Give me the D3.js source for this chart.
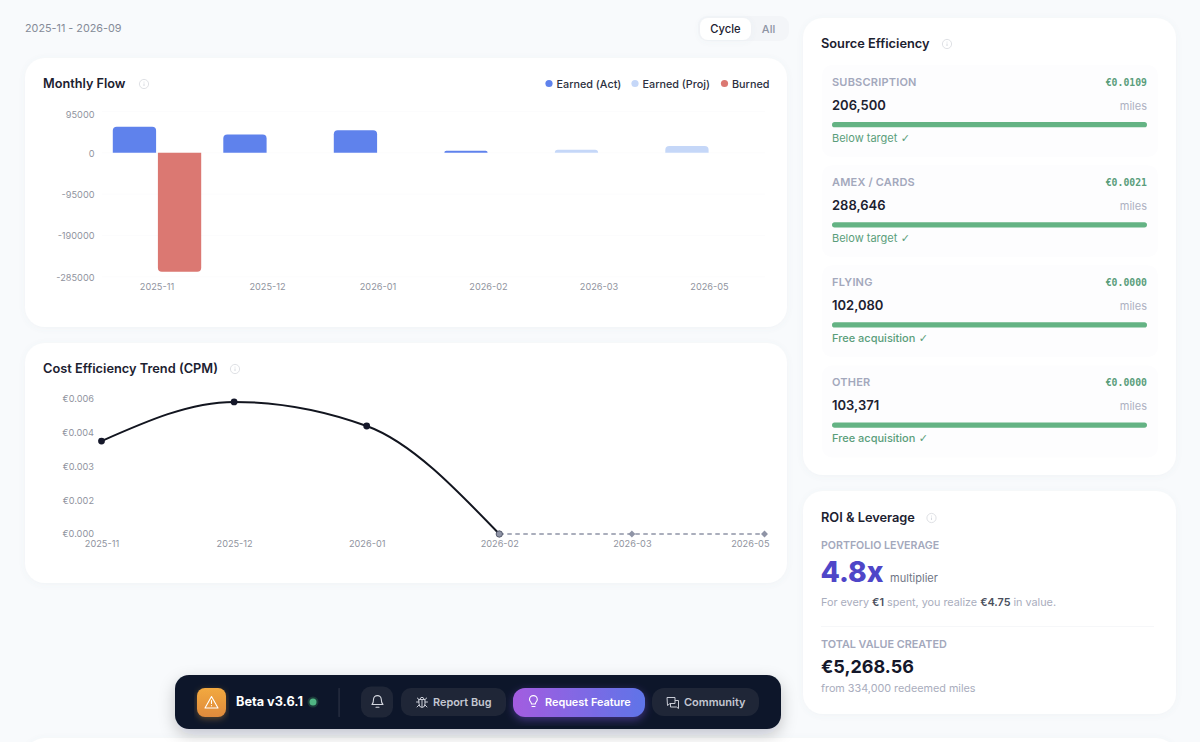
<!DOCTYPE html>
<html><head><meta charset="utf-8">
<script src="https://cdnjs.cloudflare.com/ajax/libs/d3/7.8.5/d3.min.js"></script>
<style>
html,body{margin:0;padding:0;background:#f8fafc;overflow:hidden}
svg{display:block}
text{font-family:Inter,"Noto Sans",sans-serif}
</style></head><body>
<script>
// ---- data ----
const months = ["2025-11","2025-12","2026-01","2026-02","2026-03","2026-05"];
const earnedActual = [59700,42000,51700,4600,0,0];
const earnedProjected = [0,0,0,0,7000,15400];
const burned = [273500,0,0,0,0,0];
const flowTicks = [95000,0,-95000,-190000,-285000];
const cpmActual = [0.00413,0.00587,0.0048,0];
const cpmProjected = [0,0,0];
const cpmTickValues = [0,0.0015,0.003,0.0045,0.006];
const cpmTickLabels = ["€0.000","€0.002","€0.003","€0.004","€0.006"];
const legendNames = ["Earned (Act)","Earned (Proj)","Burned"];
const sourceNames = ["SUBSCRIPTION","AMEX / CARDS","FLYING","OTHER"];
const sourceCpm = ["€0.0109","€0.0021","€0.0000","€0.0000"];
const sourceMiles = ["206,500","288,646","102,080","103,371"];
const sourceNotes = ["Below target","Below target","Free acquisition","Free acquisition"];
const sourceFill = [1,1,1,1];

const BLUE="#5f82ec",PROJ="#c5d7f8",RED="#db7872",INK="#1c2130",TICK="#8f939e",GREEN="#64b384";
const svg=d3.select("body").append("svg").attr("width",1200).attr("height",742);
const defs=svg.append("defs");
const sh=(id,dy,std,op,col)=>{const f=defs.append("filter").attr("id",id).attr("x","-10%").attr("y","-20%").attr("width","120%").attr("height","150%");
  f.append("feDropShadow").attr("dx",0).attr("dy",dy).attr("stdDeviation",std).attr("flood-color",col||"#64748b").attr("flood-opacity",op);};
sh("card",1,3,0.06); sh("bar",6,8,0.22,"#0f172a"); sh("glow",3,4,0.4,"#8b5cf6"); sh("glowO",2,3,0.35,"#f0a53b");
const grad=(id,a,b,v)=>{const g=defs.append("linearGradient").attr("id",id);if(v){g.attr("x2",0).attr("y2",1);}g.append("stop").attr("offset",0).attr("stop-color",a);g.append("stop").attr("offset",1).attr("stop-color",b);};
grad("purple","#a35ce0","#5f74e8"); grad("orange","#f2a93f","#df8a3c",true);

const rect=(p,x,y,w,h,r,fill)=>p.append("rect").attr("x",x).attr("y",y).attr("width",w).attr("height",h).attr("rx",r).attr("fill",fill);
const txt=(p,x,y,s,size,weight,fill,anchor)=>p.append("text").attr("x",x).attr("y",y).attr("dy","0.35em").attr("font-size",size).attr("font-weight",weight).attr("fill",fill).attr("text-anchor",anchor||"start").text(s);
const info=(x,y)=>{const g=svg.append("g");g.append("circle").attr("cx",x).attr("cy",y).attr("r",4.6).attr("fill","none").attr("stroke","#dfe1e5").attr("stroke-width",1);
  g.append("line").attr("x1",x).attr("x2",x).attr("y1",y-0.5).attr("y2",y+2).attr("stroke","#d3d6dc").attr("stroke-width",0.9);
  g.append("circle").attr("cx",x).attr("cy",y-2).attr("r",0.5).attr("fill","#d3d6dc");};

// ---- page furniture ----
txt(svg,25,28.5,"2025-11 - 2026-09",10.8,400,"#858b98");
rect(svg,698,16,91,25,9,"#f3f5f8");
rect(svg,700,18,51,22,8,"#ffffff").attr("filter","url(#card)");
txt(svg,725.5,29,"Cycle",11.2,500,INK,"middle");
txt(svg,768.5,29,"All",11,500,"#8d93a3","middle");

[[25,58,762,269],[25,343,762,240],[803,18,373,457],[803,491,373,223],[25,738,1151,60]].forEach(c=>
  rect(svg,c[0],c[1],c[2],c[3],20,"#ffffff").attr("filter","url(#card)"));

// ---- Monthly Flow ----
txt(svg,43,84,"Monthly Flow",12.7,600,INK);
info(144,84);
const legendX=[549,635,724.5],legendT=[556.5,642.5,732],legendC=[BLUE,PROJ,RED];
legendNames.forEach((n,i)=>{
  svg.append("circle").attr("cx",legendX[i]).attr("cy",83.5).attr("r",3.6).attr("fill",legendC[i]);
  txt(svg,legendT[i],84,n,10.8,500,"#2b3040");
});
const x0=d3.scaleBand().domain(months).range([101.75,764.75]).paddingInner(0.2).paddingOuter(0.1);
const x1=d3.scaleBand().domain(["earned","burned"]).range([0,x0.bandwidth()]).paddingInner(0.04);
const yF=d3.scaleLinear().domain([-285000,95000]).range([276.8,111.4]);
const flow=svg.append("g");
flow.selectAll("line.g").data(flowTicks).join("line").attr("x1",102).attr("x2",765)
  .attr("y1",d=>yF(d)).attr("y2",d=>yF(d)).attr("stroke","#fcfcfd").attr("stroke-width",1);
const yAxisF=flow.append("g").attr("transform","translate(94.5,0.5)")
  .call(d3.axisLeft(yF).tickValues(flowTicks).tickSize(0).tickPadding(0).tickFormat(String));
yAxisF.select(".domain").remove();
yAxisF.selectAll("text").attr("font-size",9.2).attr("fill",TICK).style("font-family","Inter")
  .filter(d=>d===95000).attr("dy","0.6em");
const xAxisF=flow.append("g").attr("transform","translate(0,283)")
  .call(d3.axisBottom(d3.scaleBand().domain(months).range([101.75,764.75])).tickSize(0).tickPadding(0));
xAxisF.select(".domain").remove();
xAxisF.selectAll("text").attr("font-size",9.2).attr("fill",TICK).style("font-family","Inter").attr("dy","0.71em");
const barPath=(x,w,a,b)=>{ // rounded at the end away from zero
  const up=b<a,h=Math.abs(b-a),r=Math.min(4,h);
  return up?`M${x},${a}V${b+r}Q${x},${b} ${x+r},${b}H${x+w-r}Q${x+w},${b} ${x+w},${b+r}V${a}Z`
           :`M${x},${a}V${b-r}Q${x},${b} ${x+r},${b}H${x+w-r}Q${x+w},${b} ${x+w},${b-r}V${a}Z`;
};
const drawBars=(vals,key,sign,fill)=>flow.append("g").selectAll("path").data(months.map((m,i)=>({m,v:vals[i]})).filter(d=>d.v>0)).join("path")
  .attr("fill",fill).attr("d",d=>barPath(x0(d.m)+x1(key),x1.bandwidth(),yF(0),yF(sign*d.v)));
drawBars(earnedActual,"earned",1,BLUE);
drawBars(earnedProjected,"earned",1,PROJ);
drawBars(burned,"burned",-1,RED);

// ---- Cost Efficiency Trend ----
txt(svg,43,369,"Cost Efficiency Trend (CPM)",12.8,600,INK);
info(235,369);
const xC=d3.scalePoint().domain(months).range([101.5,764.5]);
const yC=d3.scaleLinear().domain([0,0.006]).range([534,399]);
const cpm=svg.append("g");
const yAxisC=cpm.append("g").attr("transform","translate(94,0)")
  .call(d3.axisLeft(yC).tickValues(cpmTickValues).tickSize(0).tickPadding(0).tickFormat((d,i)=>cpmTickLabels[i]));
yAxisC.select(".domain").remove();
yAxisC.selectAll("text").attr("font-size",9.2).attr("fill",TICK).style("font-family","Inter");
const xAxisC=cpm.append("g").attr("transform","translate(0,540.5)").call(d3.axisBottom(xC).tickSize(0).tickPadding(0));
xAxisC.select(".domain").remove();
xAxisC.selectAll("text").attr("font-size",9.2).attr("fill",TICK).style("font-family","Inter").attr("dy","0.71em")
  .filter((d,i)=>i===months.length-1).attr("text-anchor","end").attr("x",4.5);
const line=d3.line().x(d=>xC(d.m)).y(d=>yC(d.v)).curve(d3.curveMonotoneX);
const act=cpmActual.map((v,i)=>({m:months[i],v}));
const proj=cpmProjected.map((v,i)=>({m:months[i+3],v}));
cpm.append("path").datum(act).attr("d",line).attr("fill","none").attr("stroke","#12151f").attr("stroke-width",2);
cpm.append("path").datum(proj).attr("d",line).attr("fill","none").attr("stroke","#8f94a6").attr("stroke-width",1.5).attr("stroke-dasharray","4.5,3.5");
cpm.selectAll("circle.a").data(act.slice(0,3)).join("circle").attr("cx",d=>xC(d.m)).attr("cy",d=>yC(d.v)).attr("r",3.4).attr("fill","#15182a");
const diamond=d3.symbol().type(d3.symbolSquare).size(24);
cpm.selectAll("path.p").data(proj).join("path").attr("d",diamond).attr("fill","#8f94a6")
  .attr("transform",d=>`translate(${xC(d.m)},${yC(d.v)}) rotate(45)`);
cpm.append("circle").attr("cx",xC(proj[0].m)).attr("cy",yC(proj[0].v)).attr("r",3.2).attr("fill","#8f94a6").attr("stroke","#3a3f52").attr("stroke-width",0.7);

// ---- Source Efficiency ----
txt(svg,821,44,"Source Efficiency",12.8,600,INK);
info(947,44);
sourceNames.forEach((n,i)=>{
  const g=svg.append("g").attr("transform",`translate(0,${100.15*i})`);
  rect(g,822,65,336,92,10,"#fdfdfe");
  txt(g,832,82,n,11,600,"#a3a8bc").attr("letter-spacing","0.2");
  txt(g,1147,82.5,sourceCpm[i],9.8,700,"#5a9d7b","end").style("font-family","'DejaVu Sans Mono'");
  txt(g,832,105,sourceMiles[i],13,600,INK);
  txt(g,1147,106,"miles",11,400,"#adb1c2","end");
  const w=d3.scaleLinear().domain([0,1]).range([0,315]);
  rect(g,832,122,w(sourceFill[i]),5.3,2.65,GREEN);
  const note=txt(g,832,138,sourceNotes[i],11,i<2?400:500,"#5a9d7b");
  note.append("tspan").text(" ✓").style("font-family","'DejaVu Sans'").attr("font-size",11).attr("font-weight",400);
});

// ---- ROI ----
txt(svg,821,518,"ROI & Leverage",12.8,600,INK);
info(931.5,518);
txt(svg,821,545,"PORTFOLIO LEVERAGE",10.6,600,"#a3a8bc");
txt(svg,820.5,572,"4.8x",28.2,800,"#4f46c8");
txt(svg,890,578,"multiplier",11,400,"#6f7585");
const forEvery=txt(svg,821,602.5,"",10.8,400,"#a9adbd");
[["For every ",0],["€1",1],[" spent, you realize ",0],["€4.75",1],[" in value.",0]].forEach(p=>
  forEvery.append("tspan").text(p[0]).attr("font-weight",p[1]?600:400).attr("fill",p[1]?"#4a4f5d":"#a9adbd"));
svg.append("line").attr("x1",821).attr("x2",1154).attr("y1",626.5).attr("y2",626.5).attr("stroke","#f6f7f9");
txt(svg,821,644,"TOTAL VALUE CREATED",10.8,600,"#a3a8bc");
txt(svg,821,667,"€5,268.56",18,700,"#14172a");
txt(svg,821,688.5,"from 334,000 redeemed miles",10.8,400,"#a9adbd");

// ---- toolbar ----
rect(svg,175,675,606,54,14,"#11162a").attr("filter","url(#bar)");
rect(svg,197,688,29,29,8,"url(#orange)").attr("filter","url(#glowO)");
const ic=svg.append("g").attr("fill","none").attr("stroke","#fff").attr("stroke-width",1.1).attr("stroke-linecap","round").attr("stroke-linejoin","round");
ic.append("path").attr("d","M211.5,696.5L218,708H205Z M211.5,700.5V703.5 M211.5,705.6V705.8");
txt(svg,236,702,"Beta v3.6.1",12.7,700,"#ffffff");
svg.append("circle").attr("cx",313).attr("cy",702).attr("r",5.5).attr("fill","#1b3a3a");
svg.append("circle").attr("cx",313).attr("cy",702).attr("r",3.5).attr("fill","#4fb583");
rect(svg,338.5,688,1.2,29,0.5,"#2c3244");
rect(svg,361,686.5,32,31,10,"#1f2637");
const bell=svg.append("g").attr("fill","none").attr("stroke","#d5d8e0").attr("stroke-width",1.1).attr("stroke-linecap","round").attr("stroke-linejoin","round");
bell.append("path").attr("d","M372,704.5C373.5,703 373.5,701 373.5,699.5A3.9,3.9 0 0 1 381.3,699.5C381.3,701 381.3,703 383,704.5Z M376,707.3H379");
rect(svg,401,688,105,28,10,"#1f2637");
const bug=svg.append("g").attr("fill","none").attr("stroke","#c9ccd6").attr("stroke-width",1).attr("stroke-linecap","round");
bug.append("path").attr("d","M419,699.5H425V704A3,3.4 0 0 1 419,704Z M420,699.5A2,2.2 0 0 1 424,699.5 M422,700V707 M419,702H416.5 M425,702H427.5 M419,705L417,707 M425,705L427,707 M419.3,699.8L417.3,698 M424.7,699.8L426.7,698");
txt(svg,433,702,"Report Bug",10.9,600,"#c4c7d1");
rect(svg,513,688,132,29,12,"url(#purple)").attr("filter","url(#glow)");
const bulb=svg.append("g").attr("fill","none").attr("stroke","#fff").attr("stroke-width",1.1).attr("stroke-linecap","round").attr("stroke-linejoin","round");
bulb.append("path").attr("d","M531.5,704C531.5,702 529.5,701.5 529.5,699.5A3.9,3.9 0 0 1 537.3,699.5C537.3,701.5 535.3,702 535.3,704Z M532,706.5H535 ");
txt(svg,545,702,"Request Feature",10.9,600,"#ffffff");
rect(svg,652,688,107,28,12,"#1f2637");
const chat=svg.append("g").attr("fill","none").attr("stroke","#c9ccd6").attr("stroke-width",1).attr("stroke-linejoin","round");
chat.append("path").attr("d","M667,697.5H675V703.5H670L667.5,705.5Z M675,700.5H678.5V708.5L676.5,707H670.5V703.5");
txt(svg,684,702,"Community",11,600,"#c4c7d1");
</script>
</body></html>
